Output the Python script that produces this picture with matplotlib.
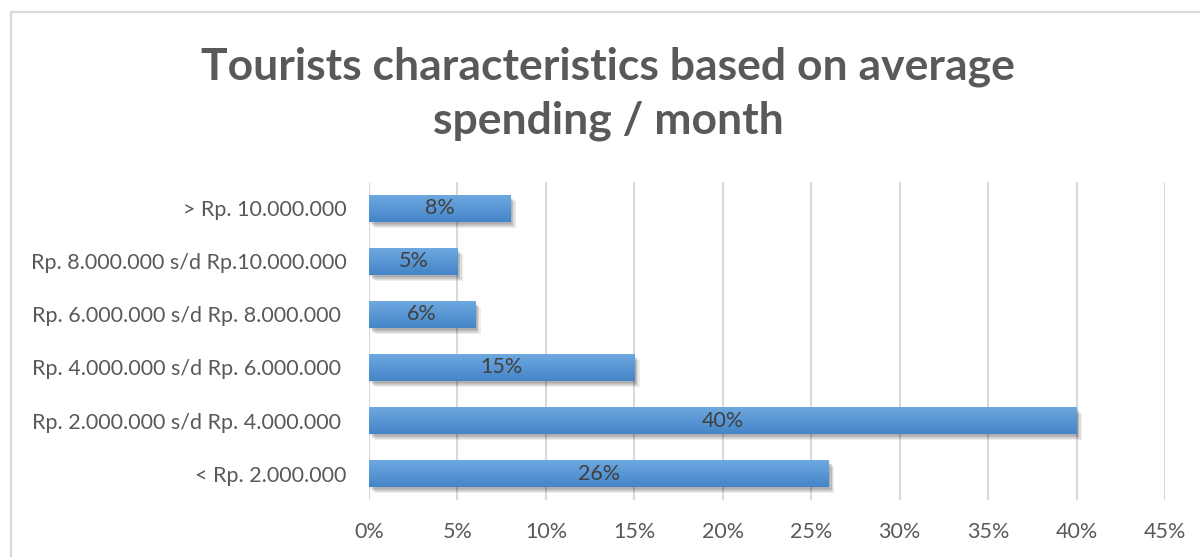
import matplotlib.pyplot as plt
import matplotlib.patheffects as pe
from matplotlib.patches import Rectangle
from matplotlib.colors import LinearSegmentedColormap
import numpy as np

plt.rcParams['font.family'] = ['Lato', 'DejaVu Sans']

categories = [
    "< Rp. 2.000.000",
    "Rp. 2.000.000 s/d Rp. 4.000.000 ",
    "Rp. 4.000.000 s/d Rp. 6.000.000 ",
    "Rp. 6.000.000 s/d Rp. 8.000.000 ",
    "Rp. 8.000.000 s/d Rp.10.000.000",
    "> Rp. 10.000.000",
]
shares = [26, 40, 15, 6, 5, 8]
xticks = [0, 5, 10, 15, 20, 25, 30, 35, 40, 45]

fig = plt.figure(figsize=(12, 5.57), dpi=100)
ax = fig.add_axes([0.3075, 0.1023, 0.9708 - 0.3075, 0.6733 - 0.1023])

# outer chart frame (runs off the right and bottom edges)
fig.patches.append(Rectangle((10.5 / 1200, -0.1), 1.2, 1 - 11.5 / 557 + 0.1,
                             transform=fig.transFigure, fill=False,
                             edgecolor="#d9d9d9", linewidth=1.6))

# soft drop shadow built from a few stacked offsets
shadow = [pe.SimplePatchShadow(offset=(dx, -dy), shadow_rgbFace="#000000", alpha=0.07)
          for dx, dy in [(1, 1.5), (2, 2.5), (3, 3.5), (4, 4.5), (2, 3)]]

y = np.arange(len(categories))
bars = ax.barh(y, shares, height=0.5, color="#5b9bd5", zorder=3,
               path_effects=shadow + [pe.Normal()])

# vertical gradient fill inside each bar, lighter on top
grad = LinearSegmentedColormap.from_list("bar", ["#4485c8", "#6ea8e0"])
for b in bars:
    x0, y0 = b.get_x(), b.get_y()
    w, h = b.get_width(), b.get_height()
    im = ax.imshow(np.linspace(0, 1, 64).reshape(-1, 1), cmap=grad, aspect="auto",
                   extent=(x0, x0 + w, y0, y0 + h), origin="lower", zorder=4)
    im.set_clip_path(b)

for b, v in zip(bars, shares):
    ax.text(b.get_x() + b.get_width() / 2, b.get_y() + b.get_height() / 2, f"{v}%",
            ha="center", va="center", fontsize=15.5, color="#404040", zorder=5)

ax.set_xlim(0, 45)
ax.set_ylim(-0.5, len(categories) - 0.5)
ax.set_xticks(xticks)
ax.set_xticklabels([f"{t}%" for t in xticks])
ax.set_yticks(y)
ax.set_yticklabels(categories)
ax.tick_params(axis="both", length=0, labelsize=15.5, labelcolor="#595959")
ax.tick_params(axis="x", pad=16)
ax.tick_params(axis="y", pad=16)
ax.grid(axis="x", color="#d9d9d9", linewidth=1.5, zorder=0)
ax.set_axisbelow(True)
for s in ax.spines.values():
    s.set_visible(False)

fig.text(0.507, 1 - 94 / 557, "Tourists characteristics based on average\nspending / month",
         ha="center", va="center", fontsize=32, fontweight="bold", color="#595959",
         linespacing=1.4)

fig.savefig("out.png", dpi=100)
